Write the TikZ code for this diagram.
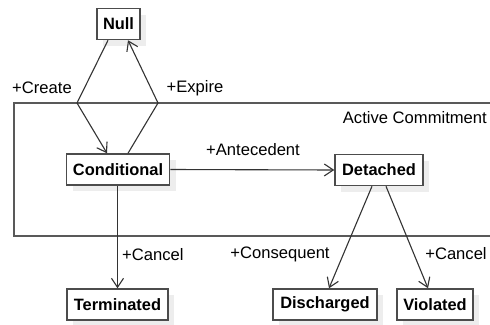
\documentclass[tikz,border=0pt]{standalone}
\usepackage{fontspec}
\setmainfont{Liberation Sans}
\usetikzlibrary{arrows.meta,positioning,shadows,calc}

\begin{document}
\begin{tikzpicture}[x=1pt,y=-1pt]
			\tikzset{
				label/.style = {font={\fontsize{16.6}{19}\selectfont}, inner sep=0pt},
				arrow/.style={-{Straight Barb[length=9pt,width=12pt]}, line width=1.1pt, draw=black!80},
				statebox/.style={draw=black!70, line width=1.5pt, fill=white, inner sep=0pt, minimum height=31pt, font={\fontsize{16.4}{19}\selectfont\bfseries}, drop shadow={shadow xshift=6pt, shadow yshift=-6pt, fill=black!7, opacity=1}},
			}
			\useasboundingbox (0,0) rectangle (490,324);

			% active commitment region
			\draw[line width=1.6pt, draw=black!65] (495,103) -- (14,103) -- (14,236) -- (495,236);
			\node[label, anchor=east] (active) at (487,118) {Active Commitment};

			\node[statebox, minimum width=43pt] (null) at (118.5,24) {Null};
			\node[statebox, minimum width=103pt] (cond) at (118,169.5) {Conditional};
			\node[statebox, minimum width=88pt] (det) at (379,170) {Detached};
			\node[statebox, minimum width=101pt] (term) at (117.5,304.5) {Terminated};
			\node[statebox, minimum width=104pt] (dis) at (325,304.5) {Discharged};
			\node[statebox, minimum width=76pt] (vio) at (435,304.5) {Violated};

			\coordinate (crt) at (77,103);
			\coordinate (exp) at (158,103);

			\draw[arrow] ([xshift=-10.5pt]null.south) -- (crt) -- ([xshift=-11pt]cond.north);
			\draw[arrow] ([xshift=10pt]cond.north) -- (exp) -- ([xshift=9.5pt]null.south);
			\draw[arrow] (cond.east) -- (det.west);
			\draw[arrow] (cond.south -| term.north) -- (term.north);
			\draw[arrow] ([xshift=-7pt]det.south) -- ([xshift=4pt]dis.north);
			\draw[arrow] ([xshift=7pt]det.south) -- ([xshift=-7pt]vio.north);

			\node[label] (lcreate) at (42,88) {+Create};
			\node[label] (lexpire) at (195,88) {+Expire};
			\node[label] (lante) at (253,150) {+Antecedent};
			\node[label, anchor=west] (lcancel) at (122,255) {+Cancel};
			\node[label] (lcons) at (280,254) {+Consequent};
			\node[label] (lcancelb) at (456,254) {+Cancel};

		\end{tikzpicture}
\end{document}
